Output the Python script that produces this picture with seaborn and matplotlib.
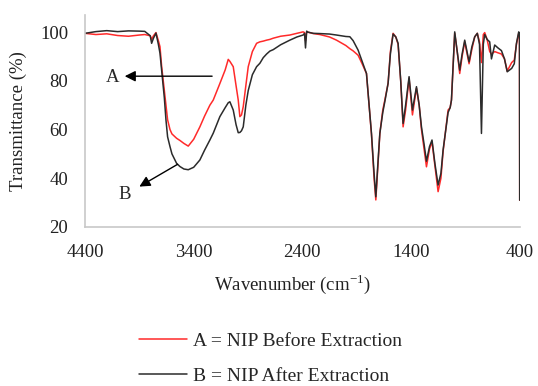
import numpy as np
import pandas as pd
import matplotlib
matplotlib.use("Agg")
import matplotlib.pyplot as plt
import seaborn as sns

wavenumber = [4400, 4300, 4200, 4100, 4000, 3900, 3850, 3800, 3787, 3770, 3747, 3725, 3710,
              3695, 3670, 3655, 3640, 3618, 3600, 3557, 3526, 3490, 3450, 3400, 3343, 3300,
              3251, 3220, 3159, 3110, 3082, 3067, 3036, 3010, 2990, 2975, 2960, 2944, 2920,
              2898, 2860, 2821, 2791, 2760, 2729, 2699, 2668, 2600, 2515, 2450, 2393, 2380,
              2371, 2360, 2350, 2300, 2239, 2150, 2086, 2000, 1963, 1933, 1887, 1850, 1810,
              1764, 1740, 1724, 1705, 1687, 1660, 1641, 1611, 1590, 1565, 1540, 1519, 1495,
              1473, 1450, 1418, 1387, 1350, 1325, 1304, 1280, 1258, 1230, 1207, 1180, 1151,
              1125, 1105, 1059, 1040, 1028, 998, 975, 952, 930, 906, 866, 840, 814, 790, 770,
              752, 735, 722, 700, 676, 660, 630, 600, 568, 540, 515, 474, 450, 430, 409, 402,
              400]

before_extraction = [99.5, 99.0, 99.3, 98.6, 98.3, 98.8, 99.0, 98.5, 97.0, 98.5, 99.8, 96.5, 94.0,
                     86.0, 76.0, 70.0, 64.0, 60.0, 58.2, 56.4, 55.5, 54.3, 53.2, 56.0, 61.1, 65.5,
                     70.0, 72.1, 78.9, 84.5, 88.8, 88.0, 85.8, 78.0, 72.1, 65.3, 66.0, 69.4, 78.0,
                     85.8, 92.0, 95.4, 96.0, 96.3, 96.7, 97.0, 97.5, 98.3, 98.8, 99.5, 100.1, 99.8,
                     96.5, 100.2, 100.0, 99.4, 99.0, 98.0, 96.7, 94.5, 93.2, 92.3, 90.5, 87.0, 83.0,
                     58.0, 40.0, 31.1, 45.0, 58.4, 68.0, 72.1, 79.0, 92.0, 99.5, 98.0, 95.0, 80.0,
                     61.1, 68.0, 81.0, 66.0, 77.0, 70.0, 60.0, 52.0, 44.7, 52.0, 55.0, 45.0, 34.5,
                     40.0, 51.0, 68.0, 69.0, 72.1, 99.5, 92.0, 83.0, 90.0, 96.0, 87.0, 93.0, 98.0,
                     99.5, 96.0, 87.5, 99.0, 99.8, 97.0, 92.0, 91.0, 92.0, 91.5, 91.0, 89.0, 84.0,
                     87.5, 88.5, 95.0, 99.5, 98.0, 31.0]

after_extraction = [99.5, 100.2, 100.6, 100.2, 100.5, 100.4, 100.3, 98.5, 95.4, 97.5, 99.6, 95.0, 91.3,
                    84.4, 73.0, 63.9, 57.0, 53.0, 50.0, 46.1, 44.8, 43.8, 43.5, 44.5, 47.5, 51.5,
                    55.7, 58.5, 65.3, 69.0, 71.0, 71.4, 68.0, 62.0, 58.7, 58.8, 59.5, 61.1, 70.0,
                    76.0, 82.5, 85.8, 87.2, 89.5, 91.0, 92.2, 92.8, 94.8, 96.7, 98.0, 98.8, 99.5,
                    93.5, 100.4, 100.0, 99.5, 99.4, 99.2, 98.8, 98.2, 98.1, 96.5, 92.6, 88.0, 83.0,
                    58.4, 42.0, 32.4, 46.0, 58.4, 67.0, 71.5, 79.0, 91.0, 99.2, 98.0, 95.4, 80.0,
                    62.5, 70.0, 81.7, 68.0, 77.6, 70.0, 61.1, 54.0, 47.0, 53.0, 55.7, 46.0, 37.2,
                    42.0, 51.6, 67.0, 69.0, 72.1, 100.1, 92.0, 84.4, 91.0, 96.7, 87.8, 94.0, 98.1,
                    99.5, 95.0, 58.4, 95.0, 99.0, 97.0, 96.0, 89.0, 94.7, 93.5, 92.4, 89.0, 83.7,
                    85.1, 87.0, 95.4, 100.1, 99.0, 31.0]

series_labels = ["A = NIP Before Extraction", "B = NIP After Extraction"]
x_ticks = [4400, 3400, 2400, 1400, 400]
y_ticks = [20, 40, 60, 80, 100]

df = pd.concat([
    pd.DataFrame({"wn": wavenumber, "T": before_extraction, "s": series_labels[0]}),
    pd.DataFrame({"wn": wavenumber, "T": after_extraction, "s": series_labels[1]}),
])

sns.set_theme(style="white")
plt.rcParams["font.family"] = ["Liberation Serif", "DejaVu Serif"]
plt.rcParams["mathtext.fontset"] = "custom"
plt.rcParams["mathtext.rm"] = "Liberation Serif"

FS = 13.5
fig = plt.figure(figsize=(5.38, 3.86), dpi=100)
ax = fig.add_axes([0.158, 0.412, 0.808, 0.549])

sns.lineplot(data=df, x="wn", y="T", hue="s", palette=["#ff2a2a", "#2b2b2b"],
             estimator=None, sort=False, linewidth=1.1, ax=ax, legend=True)

ax.set_xlim(4400, 400)
ax.set_ylim(20, 107)
ax.set_xticks(x_ticks)
ax.set_yticks(y_ticks)
ax.tick_params(axis="both", length=0, labelsize=FS, colors="#222222")
ax.tick_params(axis="x", pad=12)
ax.tick_params(axis="y", pad=12)
for s in ["top", "right"]:
    ax.spines[s].set_visible(False)
for s in ["left", "bottom"]:
    ax.spines[s].set_color("#c8c8c8")
    ax.spines[s].set_linewidth(1.2)

ax.set_xlabel(r"Wavenumber (cm$^{\mathregular{-1}}$)", fontsize=FS, color="#222222")
ax.set_ylabel("Transmittance (%)", fontsize=FS, color="#222222")
ax.xaxis.set_label_coords(0.478, -0.215)
ax.yaxis.set_label_coords(-0.133, 0.5)

arrow = dict(arrowstyle="-|>", color="black", lw=1.0, mutation_scale=16)
ax.annotate("", xy=(4060, 81.9), xytext=(3205, 81.9), arrowprops=arrow)
ax.text(4143, 81.5, "A", fontsize=FS, ha="center", va="center")
ax.annotate("", xy=(3922, 36.0), xytext=(3526, 46.3), arrowprops=arrow)
ax.text(4032, 33.5, "B", fontsize=FS, ha="center", va="center")

h, l = ax.get_legend_handles_labels()
ax.get_legend().remove()
fig.legend(h, l, loc="upper left", bbox_to_anchor=(0.258, 0.14), frameon=False,
           fontsize=14, handlelength=2.5, handletextpad=0.3, labelspacing=0.9,
           borderpad=0, borderaxespad=0)

fig.savefig("out.png", dpi=100)
